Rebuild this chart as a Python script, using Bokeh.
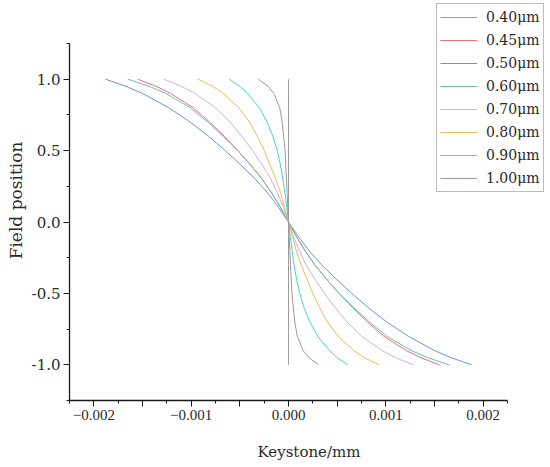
from bokeh.plotting import figure
from bokeh.models import (Legend, LegendItem, FixedTicker, CustomJSTickFormatter, Range1d)
from bokeh.embed import file_html
from bokeh.resources import INLINE

# ---------------- data ----------------
field_position = [-1.0, -0.95, -0.9, -0.8, -0.7, -0.6, -0.5, -0.4, -0.3, -0.2, -0.1, 0.0,
                  0.1, 0.2, 0.3, 0.4, 0.5, 0.6, 0.7, 0.8, 0.9, 0.95, 1.0]

keystone_040 = [0.0] * 23
keystone_045 = [0.00155, 0.00136, 0.00121, 0.00098, 0.00081, 0.00066, 0.00052, 0.00039, 0.00027, 0.00017, 0.00008, 0.0,
                -0.00008, -0.00017, -0.00027, -0.00039, -0.00052, -0.00066, -0.00081, -0.00098, -0.00121, -0.00136, -0.00155]
keystone_050 = [0.00188, 0.00167, 0.00150, 0.00123, 0.00101, 0.00082, 0.00065, 0.00049, 0.00034, 0.00021, 0.00010, 0.0,
                -0.00010, -0.00021, -0.00034, -0.00049, -0.00065, -0.00082, -0.00101, -0.00123, -0.00150, -0.00167, -0.00188]
keystone_060 = [0.00165, 0.00143, 0.00126, 0.00101, 0.00083, 0.00067, 0.00052, 0.00039, 0.00027, 0.00017, 0.00008, 0.0,
                -0.00008, -0.00017, -0.00027, -0.00039, -0.00052, -0.00067, -0.00083, -0.00101, -0.00126, -0.00143, -0.00165]
keystone_070 = [0.00128, 0.00110, 0.00096, 0.00075, 0.00060, 0.00048, 0.00037, 0.00027, 0.00018, 0.00011, 0.00005, 0.0,
                -0.00005, -0.00011, -0.00018, -0.00027, -0.00037, -0.00048, -0.00060, -0.00075, -0.00096, -0.00110, -0.00128]
keystone_080 = [0.00093, 0.00078, 0.00067, 0.00051, 0.00040, 0.00032, 0.00025, 0.00019, 0.00013, 0.00008, 0.00004, 0.0,
                -0.00004, -0.00008, -0.00013, -0.00019, -0.00025, -0.00032, -0.00040, -0.00051, -0.00067, -0.00078, -0.00093]
keystone_090 = [0.00061, 0.00050, 0.00042, 0.00030, 0.00022, 0.00016, 0.000116, 0.000083, 0.000057, 0.000036, 0.000018, 0.0,
                -0.000018, -0.000036, -0.000057, -0.000083, -0.000116, -0.00016, -0.00022, -0.00030, -0.00042, -0.00050, -0.00061]
keystone_100 = [0.00031, 0.00021, 0.00015, 0.00009, 0.000065, 0.00005, 0.000035, 0.000028, 0.000021, 0.000014, 0.000007, 0.0,
                -0.000007, -0.000014, -0.000021, -0.000028, -0.000035, -0.00005, -0.000065, -0.00009, -0.00015, -0.00021, -0.00031]

wavelength_labels = ["0.40μm", "0.45μm", "0.50μm", "0.60μm", "0.70μm", "0.80μm", "0.90μm", "1.00μm"]
series_colors = ["#9b9b9b", "#e8707a", "#6b95d4", "#6cc39c", "#c7b2e6", "#e8bb55", "#45d4d4", "#ab9399"]

x_tick_values = [-0.002, -0.0015, -0.001, -0.0005, 0.0, 0.0005, 0.001, 0.0015, 0.002]
x_tick_labels = ["\u22120.002", "", "\u22120.001", "", "0.000", "", "0.001", "", "0.002"]
x_minor_ticks = [-0.00225, -0.00175, -0.00125, -0.00075, -0.00025, 0.00025, 0.00075, 0.00125, 0.00175, 0.00225]
y_tick_values = [-1.0, -0.5, 0.0, 0.5, 1.0]
y_tick_labels = ["-1.0", "-0.5", "0.0", "0.5", "1.0"]
y_minor_ticks = [-1.25, -0.75, -0.25, 0.25, 0.75, 1.25]

x_axis_bounds = (-0.00225, 0.00225)
y_axis_bounds = (-1.25, 1.25)

series = [keystone_040, keystone_045, keystone_050, keystone_060,
          keystone_070, keystone_080, keystone_090, keystone_100]

# ---------------- layout (pixels) ----------------
W, H = 548, 467
left, bottom_px = 69, 400          # frame left edge and axis baseline (page px)
axis_right_px, axis_top_px = 507, 43
frame_w = W - left
frame_h = bottom_px
xs_per_px = (x_axis_bounds[1] - x_axis_bounds[0]) / (axis_right_px - left)
ys_per_px = (y_axis_bounds[1] - y_axis_bounds[0]) / (bottom_px - axis_top_px)
x_end = x_axis_bounds[0] + frame_w * xs_per_px
y_end = y_axis_bounds[0] + frame_h * ys_per_px

p = figure(width=W, height=H, output_backend="svg", toolbar_location=None,
           x_range=Range1d(x_axis_bounds[0], x_end), y_range=Range1d(y_axis_bounds[0], y_end),
           min_border_left=left, min_border_right=0, min_border_top=0,
           min_border_bottom=H - bottom_px)
p.outline_line_color = None
p.xgrid.visible = False
p.ygrid.visible = False
p.background_fill_color = "white"
p.border_fill_color = "white"

items = []
for xs, lab, col in zip(series, wavelength_labels, series_colors):
    r = p.line(xs, field_position, line_color=col, line_width=1.0)
    items.append(LegendItem(label=lab, renderers=[r]))

fmt_code = """
const i = tvals.findIndex(t => Math.abs(t - tick) < 1e-9);
return i >= 0 ? tlabels[i] : "";
"""
p.xaxis.ticker = FixedTicker(ticks=x_tick_values, minor_ticks=x_minor_ticks)
p.xaxis.formatter = CustomJSTickFormatter(args=dict(tvals=x_tick_values, tlabels=x_tick_labels), code=fmt_code)
p.yaxis.ticker = FixedTicker(ticks=y_tick_values, minor_ticks=y_minor_ticks)
p.yaxis.formatter = CustomJSTickFormatter(args=dict(tvals=y_tick_values, tlabels=y_tick_labels), code=fmt_code)
p.xaxis.bounds = x_axis_bounds
p.yaxis.bounds = y_axis_bounds

for ax in (p.xaxis[0], p.yaxis[0]):
    ax.axis_line_color = "#1a1a1a"
    ax.axis_line_width = 1.3
    ax.major_tick_line_color = "#1a1a1a"
    ax.minor_tick_line_color = "#1a1a1a"
    ax.major_tick_out = 6
    ax.major_tick_in = 0
    ax.minor_tick_out = 3
    ax.minor_tick_in = 0
    ax.major_label_text_color = "#2a2a2a"
    ax.axis_label_text_color = "#2a2a2a"
    ax.axis_label_text_font = "DejaVu Serif"
    ax.axis_label_text_font_style = "normal"

p.xaxis.axis_label = "Keystone/mm"
p.xaxis.axis_label_text_font_size = "15px"
p.xaxis.axis_label_standoff = 20
p.xaxis.major_label_text_font = "Liberation Serif"
p.xaxis.major_label_text_font_size = "15px"
p.xaxis.major_label_standoff = 3

p.yaxis.axis_label = "Field position"
p.yaxis.axis_label_text_font_size = "17px"
p.yaxis.axis_label_standoff = 3
p.yaxis.major_label_text_font = "DejaVu Serif"
p.yaxis.major_label_text_font_size = "15px"
p.yaxis.major_label_standoff = 3

legend = Legend(items=items, location=(436 - left, bottom_px - 192))
legend.border_line_color = "#7a7a7a"
legend.border_line_width = 1
legend.background_fill_color = "white"
legend.background_fill_alpha = 1.0
legend.padding = 3
legend.spacing = 3
legend.margin = 0
legend.label_height = 20
legend.glyph_height = 20
legend.glyph_width = 37
legend.label_standoff = 9
legend.label_text_font = "DejaVu Serif"
legend.label_text_font_size = "14px"
legend.label_text_color = "#2a2a2a"
p.add_layout(legend)

open("out.html", "w").write(file_html(p, INLINE))
